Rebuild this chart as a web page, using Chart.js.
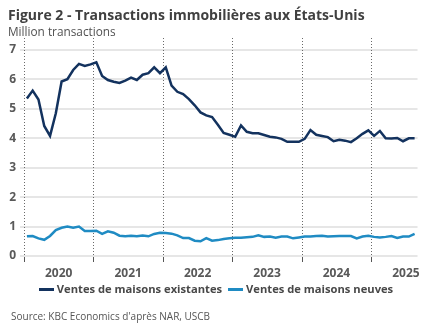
<!DOCTYPE html>
<html>
<head>
<meta charset="utf-8">
<script src="https://cdn.jsdelivr.net/npm/chart.js@4.4.0/dist/chart.umd.min.js"></script>
<style>
  html, body { margin: 0; padding: 0; background: #fff; }
  body { width: 432px; height: 334px; position: relative; overflow: hidden; font-family: "Open Sans", sans-serif; }
  #chart-wrap { position: absolute; left: 0; top: 0; width: 432px; height: 334px; }
  .title { position: absolute; left: 8px; top: 6px; font-size: 14px; line-height: 17px; font-weight: 700; color: #404040; white-space: nowrap; }
  .subtitle { position: absolute; left: 8px; top: 24px; font-size: 11.8px; line-height: 15px; color: #505050; white-space: nowrap; }
  .legend { position: absolute; left: 0; top: 281px; width: 432px; display: flex; justify-content: center; font-size: 11.2px; line-height: 16px; font-weight: 700; color: #484848; white-space: nowrap; }
  .legend span.item { display: flex; align-items: center; margin: 0 3px; }
  .legend i { display: inline-block; width: 15px; height: 3px; margin-right: 3px; }
  .source { position: absolute; left: 11px; top: 310px; font-size: 10px; line-height: 13px; color: #555; white-space: nowrap; }
</style>
</head>
<body>
<div id="chart-wrap"><canvas id="housing-chart" width="432" height="334"></canvas></div>
<div class="title">Figure 2 - Transactions immobilières aux États-Unis</div>
<div class="subtitle">Million transactions</div>
<div class="legend" id="legend"></div>
<div class="source">Source: KBC Economics d'après NAR, USCB</div>
<script>
  // Ventes mensuelles (millions, rythme annualisé), janvier 2020 -> août 2025
  const yearLabels = ['2020', '2021', '2022', '2023', '2024', '2025'];

  const existingSales = [
    5.35, 5.62, 5.32, 4.42, 4.08, 4.85, 5.93, 6.01, 6.32, 6.53, 6.46, 6.51,
    6.58, 6.12, 5.98, 5.92, 5.88, 5.96, 6.06, 5.98, 6.16, 6.21, 6.41, 6.21,
    6.41, 5.79, 5.58, 5.50, 5.33, 5.12, 4.88, 4.78, 4.72, 4.46, 4.18, 4.12,
    4.05, 4.44, 4.22, 4.17, 4.17, 4.11, 4.05, 4.03, 3.98, 3.88, 3.88, 3.88,
    3.98, 4.28, 4.12, 4.08, 4.04, 3.90, 3.95, 3.92, 3.87, 4.00, 4.15, 4.27,
    4.08, 4.25, 4.00, 3.99, 4.01, 3.90, 4.00, 4.00
  ];

  const newSales = [
    0.67, 0.68, 0.60, 0.55, 0.68, 0.88, 0.96, 1.00, 0.96, 1.00, 0.85, 0.85,
    0.86, 0.75, 0.84, 0.79, 0.69, 0.67, 0.69, 0.67, 0.70, 0.67, 0.75, 0.79,
    0.78, 0.76, 0.70, 0.61, 0.61, 0.52, 0.50, 0.61, 0.52, 0.54, 0.58, 0.60,
    0.62, 0.62, 0.64, 0.65, 0.70, 0.65, 0.66, 0.62, 0.66, 0.66, 0.60, 0.63,
    0.66, 0.66, 0.68, 0.69, 0.66, 0.67, 0.68, 0.68, 0.68, 0.60, 0.66, 0.69,
    0.65, 0.63, 0.65, 0.68, 0.61, 0.66, 0.66, 0.75
  ];

  const seriesNames = ['Ventes de maisons existantes', 'Ventes de maisons neuves'];
  const seriesColors = ['#13325e', '#1f8bc3'];

  const textColor = '#595959';
  const monthsShown = 68;

  // x en mois depuis janvier 2020, point placé au milieu du mois
  function toPoints(values) {
    return values.map((v, i) => ({ x: i + 0.5, y: v }));
  }

  // Lignes pointillées au début de chaque année + petites graduations
  const yearLines = {
    id: 'yearLines',
    beforeDatasetsDraw(chart) {
      const { ctx, chartArea, scales } = chart;
      const x = scales.x;
      ctx.save();
      yearLabels.forEach((_, i) => {
        const px = Math.round(x.getPixelForValue(i * 12)) + 0.5;
        ctx.strokeStyle = '#6a6a6a';
        ctx.lineWidth = 1;
        ctx.setLineDash([1, 2]);
        ctx.beginPath();
        ctx.moveTo(px, chartArea.top - 12);
        ctx.lineTo(px, chartArea.bottom);
        ctx.stroke();
        ctx.setLineDash([]);
        ctx.strokeStyle = '#555';
        ctx.beginPath();
        ctx.moveTo(px, chartArea.bottom + 1);
        ctx.lineTo(px, chartArea.bottom + 6);
        ctx.stroke();
      });
      ctx.restore();
    }
  };

  const ctx = document.getElementById('housing-chart');

  new Chart(ctx, {
    type: 'line',
    data: {
      datasets: [
        {
          label: seriesNames[0],
          data: toPoints(existingSales),
          borderColor: seriesColors[0],
          borderWidth: 2.5,
          pointRadius: 0,
          tension: 0
        },
        {
          label: seriesNames[1],
          data: toPoints(newSales),
          borderColor: seriesColors[1],
          borderWidth: 2.5,
          pointRadius: 0,
          tension: 0
        }
      ]
    },
    options: {
      responsive: false,
      animation: false,
      layout: { padding: { left: 0, right: 14.5, top: 50, bottom: 56 } },
      plugins: {
        legend: { display: false },
        tooltip: { enabled: false }
      },
      scales: {
        x: {
          type: 'linear',
          min: 0,
          max: monthsShown,
          grid: { display: false },
          border: { display: false },
          afterBuildTicks: (scale) => {
            scale.ticks = yearLabels.map((_, i) => ({ value: 6 + 12 * i }));
          },
          afterFit: (scale) => { scale.height = 22; },
          ticks: {
            autoSkip: false,
            maxRotation: 0,
            padding: 2,
            color: textColor,
            font: { family: 'Open Sans', size: 12, weight: 'bold' },
            callback: (v) => yearLabels[Math.round((v - 6) / 12)]
          }
        },
        y: {
          min: 0,
          max: 7,
          grid: { color: '#e6e6e6', lineWidth: 2, tickLength: 4 },
          border: { display: false },
          afterFit: (scale) => { scale.width = 24; },
          ticks: {
            stepSize: 1,
            padding: 4,
            color: textColor,
            font: { family: 'Open Sans', size: 12, weight: 'bold' }
          }
        }
      }
    },
    plugins: [yearLines]
  });

  // Légende sous le graphique
  const legend = document.getElementById('legend');
  seriesNames.forEach((name, i) => {
    const item = document.createElement('span');
    item.className = 'item';
    const mark = document.createElement('i');
    mark.style.background = seriesColors[i];
    item.appendChild(mark);
    item.appendChild(document.createTextNode(name));
    legend.appendChild(item);
  });
</script>
</body>
</html>
